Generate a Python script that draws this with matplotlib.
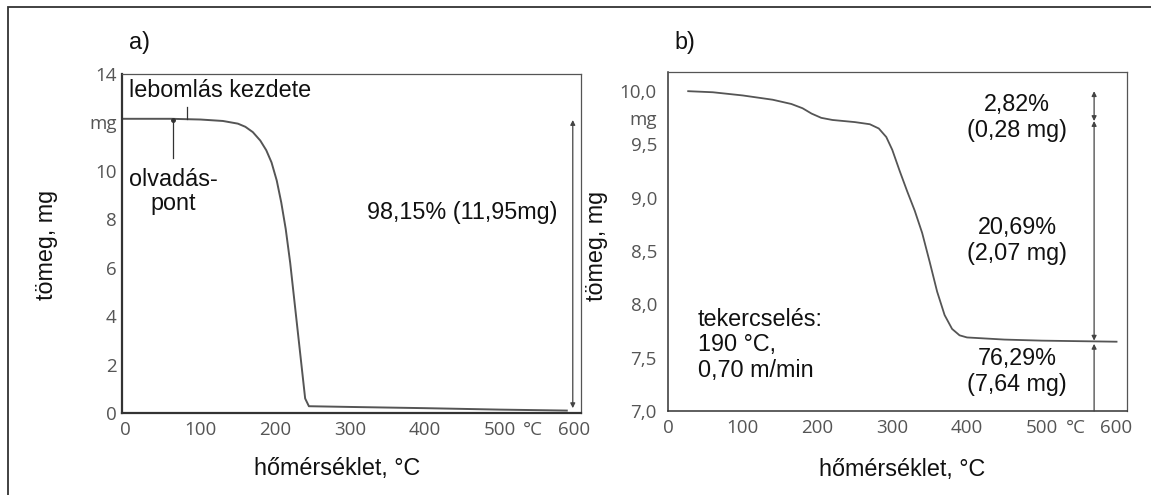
import numpy as np
import matplotlib.pyplot as plt
from matplotlib.patches import Rectangle

# ── data ──
# a) curve: temperature (°C) and mass (mg)
temp_a = [-3, 60, 100, 130, 150, 160, 170, 180, 188, 195, 202, 208, 214, 220, 230,
          240, 245, 300, 400, 500, 590]
mass_a = [12.15, 12.15, 12.12, 12.06, 11.95, 11.82, 11.6, 11.25, 10.85, 10.35, 9.6,
          8.7, 7.6, 6.2, 3.4, 0.6, 0.28, 0.25, 0.2, 0.14, 0.1]

# b) curve
temp_b = [27, 60, 100, 140, 165, 180, 192, 205, 220, 250, 270, 282, 292, 300, 310,
          320, 330, 340, 350, 360, 370, 380, 390, 400, 450, 500, 600]
mass_b = [10.0, 9.99, 9.96, 9.92, 9.88, 9.84, 9.79, 9.75, 9.73, 9.71, 9.69, 9.65,
          9.57, 9.45, 9.25, 9.06, 8.88, 8.67, 8.4, 8.12, 7.9, 7.77, 7.71, 7.69, 7.67,
          7.66, 7.65]

xticks = [0, 100, 200, 300, 400, 500, 545, 600]
xtick_labels = ["0", "100", "200", "300", "400", "500", "°C", "600"]

yticks_a = [0, 2, 4, 6, 8, 10, 12, 14]
ytick_labels_a = ["0", "2", "4", "6", "8", "10", "mg", "14"]

yticks_b = [7.0, 7.5, 8.0, 8.5, 9.0, 9.5, 9.75, 10.0]
ytick_labels_b = ["7,0", "7,5", "8,0", "8,5", "9,0", "9,5", "mg", "10,0"]

# mass-loss steps in b (top, between, bottom of each arrow)
steps_b = [10.0, 9.72, 7.66, 7.0]

TXT = dict(family="Liberation Sans", fontsize=16.8, color="#111111")
TICK_FONT = dict(family="Open Sans", size=13.5)
CURVE = "#555555"
ARROW = dict(arrowstyle="<|-|>", mutation_scale=7, lw=0.9, color="#444444",
             shrinkA=0, shrinkB=0)


def style_axes(ax, yticks, ylabels, lw_main, pad_y):
    ax.set_xticks(xticks)
    ax.set_xticklabels(xtick_labels, fontdict=TICK_FONT, color="#555555")
    ax.set_yticks(yticks)
    ax.set_yticklabels(ylabels, fontdict=TICK_FONT, color="#555555")
    ax.tick_params(axis="both", length=0)
    ax.tick_params(axis="x", pad=6)
    ax.tick_params(axis="y", pad=pad_y)
    for side in ["left", "bottom"]:
        ax.spines[side].set_linewidth(lw_main)
        ax.spines[side].set_color("#333333")
    for side in ["top", "right"]:
        ax.spines[side].set_linewidth(0.9)
        ax.spines[side].set_color("#555555")


fig = plt.figure(figsize=(11.51, 4.95), dpi=100)

# outer frame (top and left edges visible)
fig.patches.append(Rectangle((8 / 1151, -0.1), 1.2, 1.1 - 7 / 495,
                             transform=fig.transFigure, fill=False,
                             lw=1.3, edgecolor="#333333"))

# ──────────────── panel a ────────────────
ax1 = fig.add_axes([122 / 1151, 82 / 495, 459 / 1151, 339 / 495])
ax1.plot(temp_a, mass_a, color=CURVE, lw=1.4)
ax1.set_xlim(-5, 609)
ax1.set_ylim(0, 14)
style_axes(ax1, yticks_a, ytick_labels_a, 1.6, 4)

ax1.set_xlabel("hőmérséklet, °C", **TXT)
ax1.xaxis.set_label_coords(0.468, -0.13)
ax1.set_ylabel("tömeg, mg", **TXT)
ax1.yaxis.set_label_coords(-0.14, 0.495)

ax1.text(5, 13.3, "lebomlás kezdete", ha="left", va="center", **TXT)
ax1.plot([82, 82], [12.15, 12.62], color="#333333", lw=0.9)
ax1.plot([63, 63], [12.12, 10.55], color="#333333", lw=0.9)
ax1.plot([63], [12.12], marker="o", ms=2.5, color="#333333")
ax1.text(64, 9.15, "olvadás-\npont", ha="center", va="center",
         linespacing=1.1, **TXT)
ax1.text(450, 8.3, "98,15% (11,95mg)", ha="center", va="center", **TXT)
ax1.annotate("", xy=(598, 12.1), xytext=(598, 0.2), arrowprops=ARROW,
             annotation_clip=False)

fig.text(140 / 1151, 1 - 42 / 495, "a)", ha="center", va="center", **TXT)

# ──────────────── panel b ────────────────
ax2 = fig.add_axes([668 / 1151, 84 / 495, 459 / 1151, 339 / 495])
ax2.plot(temp_b, mass_b, color=CURVE, lw=1.3)
ax2.set_xlim(0, 614)
ax2.set_ylim(7.0, 10.18)
style_axes(ax2, yticks_b, ytick_labels_b, 1.1, 8)

ax2.set_xlabel("hőmérséklet, °C", **TXT)
ax2.xaxis.set_label_coords(0.51, -0.14)
ax2.set_ylabel("tömeg, mg", **TXT)
ax2.yaxis.set_label_coords(-0.13, 0.487)

ax2.text(40, 7.62, "tekercselés:\n190 °C,\n0,70 m/min", ha="left", va="center",
         linespacing=1.15, **TXT)
ax2.text(467, 9.75, "2,82%\n(0,28 mg)", ha="center", va="center",
         linespacing=1.15, **TXT)
ax2.text(467, 8.60, "20,69%\n(2,07 mg)", ha="center", va="center",
         linespacing=1.15, **TXT)
ax2.text(467, 7.37, "76,29%\n(7,64 mg)", ha="center", va="center",
         linespacing=1.15, **TXT)

ax2.annotate("", xy=(570, steps_b[0]), xytext=(570, steps_b[1]), arrowprops=ARROW)
ax2.annotate("", xy=(570, steps_b[1]), xytext=(570, steps_b[2]), arrowprops=ARROW)
ax2.annotate("", xy=(570, steps_b[2] - 0.03), xytext=(570, steps_b[3]),
             arrowprops=dict(ARROW, arrowstyle="-|>"))

fig.text(685 / 1151, 1 - 42 / 495, "b)", ha="center", va="center", **TXT)

fig.savefig("out.png", dpi=100)
